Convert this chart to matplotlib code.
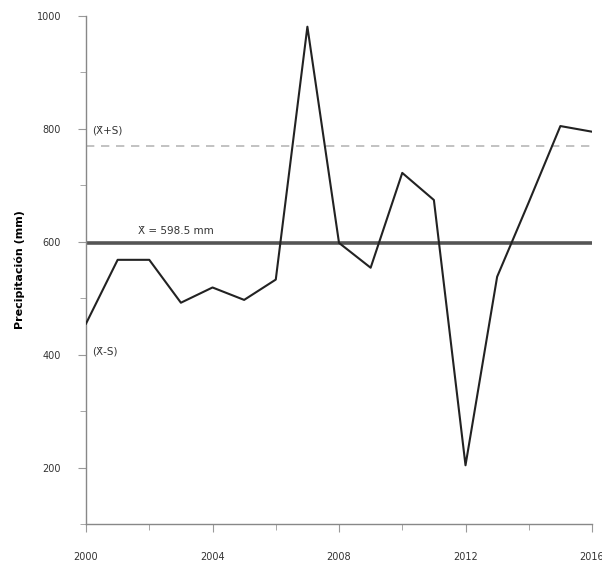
import matplotlib.pyplot as plt
import numpy as np

# annual precipitation series (mm)
years = [2000, 2001, 2002, 2003, 2004, 2005, 2006, 2007, 2008,
         2009, 2010, 2011, 2012, 2013, 2014, 2015, 2016]
precip = [455, 568, 568, 492, 519, 497, 533, 981, 598,
          554, 722, 674, 204, 538, 670, 805, 795]

mean_precip = 598.5
std_precip = 171

x_major = [2000, 2004, 2008, 2012, 2016]
x_minor = [2002, 2006, 2010, 2014]
y_major = [200, 400, 600, 800, 1000]
y_minor = [100, 300, 500, 700, 900]

fig = plt.figure(figsize=(6.02, 5.65), dpi=100)
ax = fig.add_axes([0.1429, 0.0726, 0.8405, 0.8991])

# mean and mean + std reference lines
ax.axhline(mean_precip + std_precip, color='#b8b8b8', lw=1.2, ls=(0, (5, 4)), zorder=1)
ax.axhline(mean_precip, color='#555555', lw=2.6, zorder=2)
ax.plot(years, precip, color='#222222', lw=1.5, zorder=3)

ax.text(2001.65, mean_precip + 12, 'X\u0304 = %.1f mm' % mean_precip,
        fontsize=7.5, color='#333333', va='bottom')
ax.text(2000.2, mean_precip + std_precip + 18, '(X\u0304+S)', fontsize=7.5, color='#333333', va='bottom')
ax.text(2000.2, 405, '(X\u0304-S)', fontsize=7.5, color='#333333', va='center')

ax.set_xlim(2000, 2016)
ax.set_ylim(100, 1000)
ax.set_xticks(x_major)
ax.set_xticks(x_minor, minor=True)
ax.set_yticks(y_major)
ax.set_yticks(y_minor, minor=True)

for side in ['top', 'right']:
    ax.spines[side].set_visible(False)
for side in ['left', 'bottom']:
    ax.spines[side].set_color('#888888')
    ax.spines[side].set_linewidth(1.0)

ax.tick_params(which='both', direction='out', color='#999999', labelsize=7, labelcolor='#333333')
ax.tick_params(which='major', length=6, pad=14)
ax.tick_params(axis='y', which='major', pad=12)
ax.tick_params(which='minor', length=4)

ax.set_ylabel('Precipitación (mm)', fontsize=8, fontweight='bold', labelpad=8)

fig.savefig('out.png', dpi=100)
